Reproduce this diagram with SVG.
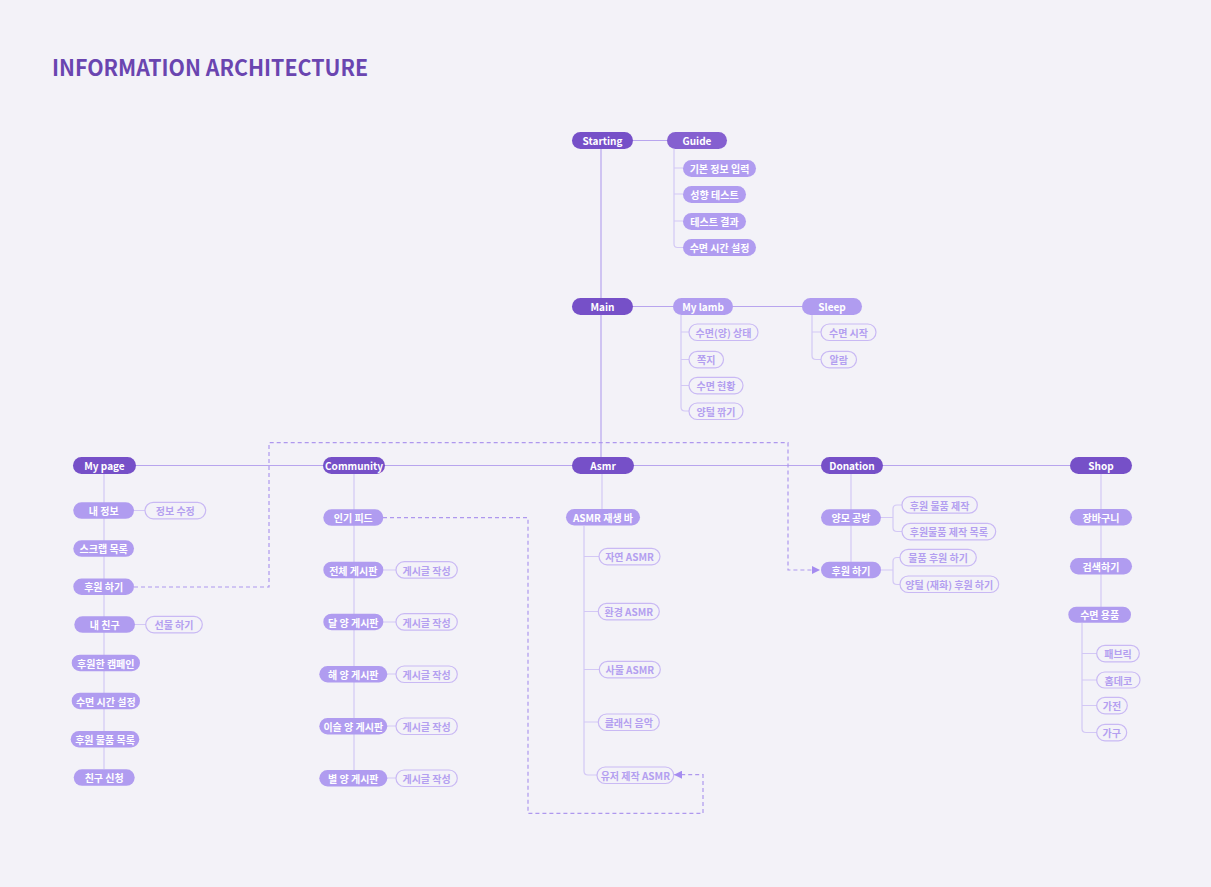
<svg xmlns="http://www.w3.org/2000/svg" width="1211" height="887" viewBox="0 0 1211 887">
<style>
text{font-family:"Noto Sans CJK KR","Noto Sans",sans-serif;font-size:10px;font-weight:700;text-anchor:middle;dominant-baseline:central}
.d rect{fill:#7650c8}
.g rect{fill:#8560d0}
.m rect{fill:#b09cf0}
.d text,.g text,.m text{fill:#ffffff}
.o rect{fill:#f3f2f8;stroke:#c9b9f4;stroke-width:1.2}
.o text{fill:#b39ff0;font-weight:600}
.ln{fill:none;stroke:#d3c8f5;stroke-width:1.2}
.mn{fill:none;stroke:#b8a5ee;stroke-width:1.2}
.ds{fill:none;stroke:#ae98ee;stroke-width:1.2;stroke-dasharray:4 3}
</style>
<defs>
<marker id="ah" viewBox="0 0 10 10" refX="10" refY="5" markerWidth="8" markerHeight="8" orient="auto" markerUnits="userSpaceOnUse">
<path d="M0,0 L10,5 L0,10 Z" fill="#a58cf0"/>
</marker>
</defs>
<rect width="1211" height="887" fill="#f3f2f8"/>
<text x="52" y="66" style="font-size:22px;font-weight:600;fill:#6a45b0;text-anchor:start" textLength="316" lengthAdjust="spacingAndGlyphs">INFORMATION ARCHITECTURE</text>

<g id="connectors">
<path class="mn" d="M601,149 V457"/>
<path class="mn" d="M633,140.5 H667"/>
<path class="ln" d="M674,149 V244 Q674,247.5 677.5,247.5 H683 M674,168 H683 M674,194 H683 M674,221 H683"/>
<path class="mn" d="M633,306.5 H673 M733,306.5 H802"/>
<path class="ln" d="M681,315 V407 Q681,411 685,411 H689 M681,332 H689 M681,359.5 H689 M681,385.5 H689"/>
<path class="ln" d="M812,315 V355.5 Q812,359.5 816,359.5 H821 M812,332 H821"/>
<path class="mn" d="M136,465.5 H1070"/>
<path class="ln" d="M104,474 V769 M134,510.5 H145 M135,624.5 H146"/>
<path class="ln" d="M354,474 V770 M383,570 H396 M383,622 H396 M387,674 H396 M387,726 H396 M387,778 H396"/>
<path class="ln" d="M602,474 V509"/>
<path class="ln" d="M584,526 V771 Q584,775 588,775 H597 M584,556.5 H599 M584,611.5 H598 M584,669.5 H599 M584,722 H598"/>
<path class="ln" d="M851,474 V562"/>
<path class="ln" d="M881,517.5 H893 M902,505 H897 Q893,505 893,509 V527.5 Q893,531.5 897,531.5 H902"/>
<path class="ln" d="M881,570 H893 M900,557.5 H897 Q893,557.5 893,561.5 V580.5 Q893,584.5 897,584.5 H900"/>
<path class="ln" d="M1101,474 V607"/>
<path class="ln" d="M1082,623 V728.5 Q1082,732.5 1086,732.5 H1097 M1082,653.5 H1097 M1082,680 H1097 M1082,705.5 H1097"/>
<path class="ds" d="M134,587 H269 V442.7 H788 V570 H820" marker-end="url(#ah)"/>
<path class="ds" d="M383,517.7 H528 V813.3 H703 V774.7 H674" marker-end="url(#ah)"/>
</g>

<g id="n-starting" class="d"><rect x="572" y="132" width="61" height="17" rx="8.5"/><text x="602.5" y="140.5">Starting</text></g>
<g id="n-guide" class="g"><rect x="667" y="132" width="60" height="17" rx="8.5"/><text x="697" y="140.5">Guide</text></g>
<g id="n-g1" class="m"><rect x="683" y="160" width="73" height="17" rx="8.5"/><text x="719.5" y="168.5">기본 정보 입력</text></g>
<g id="n-g2" class="m"><rect x="683" y="186" width="63" height="17" rx="8.5"/><text x="714.5" y="194.5">성향 테스트</text></g>
<g id="n-g3" class="m"><rect x="683" y="213" width="63" height="17" rx="8.5"/><text x="714.5" y="221.5">테스트 결과</text></g>
<g id="n-g4" class="m"><rect x="683" y="239" width="73" height="17" rx="8.5"/><text x="719.5" y="247.5">수면 시간 설정</text></g>

<g id="n-main" class="d"><rect x="572" y="298" width="61" height="17" rx="8.5"/><text x="602.5" y="306.5">Main</text></g>
<g id="n-mylamb" class="m"><rect x="673" y="298" width="60" height="17" rx="8.5"/><text x="703" y="306.5">My lamb</text></g>
<g id="n-sleep" class="m"><rect x="802" y="298" width="60" height="17" rx="8.5"/><text x="832" y="306.5">Sleep</text></g>
<g id="n-l1" class="o"><rect x="689" y="324" width="69" height="16.5" rx="8.25"/><text x="723.5" y="332.3">수면(양) 상태</text></g>
<g id="n-l2" class="o"><rect x="689" y="351.3" width="34.5" height="16.5" rx="8.25"/><text x="706.3" y="359.5">쪽지</text></g>
<g id="n-l3" class="o"><rect x="689" y="377.3" width="54" height="16.5" rx="8.25"/><text x="716" y="385.5">수면 현황</text></g>
<g id="n-l4" class="o"><rect x="689" y="403" width="54" height="16.5" rx="8.25"/><text x="716" y="411.2">양털 깎기</text></g>
<g id="n-s1" class="o"><rect x="821" y="324" width="55" height="16.5" rx="8.25"/><text x="848.5" y="332.3">수면 시작</text></g>
<g id="n-s2" class="o"><rect x="821" y="351.3" width="35.5" height="16.5" rx="8.25"/><text x="838.7" y="359.5">알람</text></g>

<g id="n-mypage" class="d"><rect x="73" y="457" width="63" height="17" rx="8.5"/><text x="104.5" y="465.5">My page</text></g>
<g id="n-p1" class="m"><rect x="73.3" y="502.3" width="60.7" height="16.5" rx="8.25"/><text x="103.7" y="510.5">내 정보</text></g>
<g id="n-p1a" class="o"><rect x="145" y="502.3" width="60.7" height="16.5" rx="8.25"/><text x="175.3" y="510.5">정보 수정</text></g>
<g id="n-p2" class="m"><rect x="73.3" y="540.3" width="60.7" height="16.5" rx="8.25"/><text x="103.7" y="548.5">스크랩 목록</text></g>
<g id="n-p3" class="m"><rect x="73.3" y="578.5" width="60.7" height="16.5" rx="8.25"/><text x="103.7" y="586.8">후원 하기</text></g>
<g id="n-p4" class="m"><rect x="74.3" y="616.3" width="60.7" height="16.5" rx="8.25"/><text x="104.7" y="624.5">내 친구</text></g>
<g id="n-p4a" class="o"><rect x="145.7" y="616.3" width="56.6" height="16.5" rx="8.25"/><text x="174" y="624.5">선물 하기</text></g>
<g id="n-p5" class="m"><rect x="71.7" y="654.7" width="68.3" height="16.5" rx="8.25"/><text x="105.8" y="663">후원한 캠페인</text></g>
<g id="n-p6" class="m"><rect x="71.7" y="692.7" width="68.3" height="16.5" rx="8.25"/><text x="105.8" y="701">수면 시간 설정</text></g>
<g id="n-p7" class="m"><rect x="70.7" y="731" width="68.6" height="16.5" rx="8.25"/><text x="105" y="739.2">후원 물품 목록</text></g>
<g id="n-p8" class="m"><rect x="73.7" y="769.3" width="61" height="16.5" rx="8.25"/><text x="104.2" y="777.6">친구 신청</text></g>

<g id="n-community" class="d"><rect x="323" y="457" width="62" height="17" rx="8.5"/><text x="354" y="465.5">Community</text></g>
<g id="n-c1" class="m"><rect x="323.3" y="509.3" width="60" height="16.5" rx="8.25"/><text x="353.3" y="517.6">인기 피드</text></g>
<g id="n-c2" class="m"><rect x="323.3" y="561.7" width="60" height="16.5" rx="8.25"/><text x="353.3" y="570">전체 게시판</text></g>
<g id="n-c2a" class="o"><rect x="396" y="561.7" width="61.3" height="16.5" rx="8.25"/><text x="426.6" y="570">게시글 작성</text></g>
<g id="n-c3" class="m"><rect x="323.3" y="613.7" width="60" height="16.5" rx="8.25"/><text x="353.3" y="622">달 양 게시판</text></g>
<g id="n-c3a" class="o"><rect x="396" y="613.7" width="61.3" height="16.5" rx="8.25"/><text x="426.6" y="622">게시글 작성</text></g>
<g id="n-c4" class="m"><rect x="319.3" y="666" width="68" height="16.5" rx="8.25"/><text x="353.3" y="674.2">해 양 게시판</text></g>
<g id="n-c4a" class="o"><rect x="396" y="666" width="61.3" height="16.5" rx="8.25"/><text x="426.6" y="674.2">게시글 작성</text></g>
<g id="n-c5" class="m"><rect x="319.3" y="718" width="68" height="16.5" rx="8.25"/><text x="353.3" y="726.2">이슬 양 게시판</text></g>
<g id="n-c5a" class="o"><rect x="396" y="718" width="61.3" height="16.5" rx="8.25"/><text x="426.6" y="726.2">게시글 작성</text></g>
<g id="n-c6" class="m"><rect x="319.3" y="770" width="68" height="16.5" rx="8.25"/><text x="353.3" y="778.2">별 양 게시판</text></g>
<g id="n-c6a" class="o"><rect x="396" y="770" width="61.3" height="16.5" rx="8.25"/><text x="426.6" y="778.2">게시글 작성</text></g>

<g id="n-asmr" class="d"><rect x="572" y="457" width="62" height="17" rx="8.5"/><text x="603" y="465.5">Asmr</text></g>
<g id="n-a0" class="m"><rect x="566" y="509" width="74" height="16.5" rx="8.25"/><text x="603" y="517.3">ASMR 재생 바</text></g>
<g id="n-a1" class="o"><rect x="599" y="548.3" width="61" height="16.5" rx="8.25"/><text x="629.5" y="556.5">자연 ASMR</text></g>
<g id="n-a2" class="o"><rect x="598.3" y="603.3" width="61" height="16.5" rx="8.25"/><text x="628.8" y="611.5">환경 ASMR</text></g>
<g id="n-a3" class="o"><rect x="599.3" y="661.3" width="61" height="16.5" rx="8.25"/><text x="629.8" y="669.5">사물 ASMR</text></g>
<g id="n-a4" class="o"><rect x="598.3" y="714" width="61" height="16.5" rx="8.25"/><text x="628.8" y="722.2">클래식 음악</text></g>
<g id="n-a5" class="o"><rect x="597" y="767" width="76.7" height="16.5" rx="8.25"/><text x="635.3" y="775.2">유저 제작 ASMR</text></g>

<g id="n-donation" class="d"><rect x="821" y="457" width="62" height="17" rx="8.5"/><text x="852" y="465.5">Donation</text></g>
<g id="n-d1" class="m"><rect x="821" y="509.3" width="60" height="16.5" rx="8.25"/><text x="851" y="517.6">양모 공방</text></g>
<g id="n-d1a" class="o"><rect x="902" y="496.7" width="75.3" height="16.5" rx="8.25"/><text x="939.6" y="505">후원 물품 제작</text></g>
<g id="n-d1b" class="o"><rect x="902" y="523.3" width="93.7" height="16.5" rx="8.25"/><text x="948.8" y="531.6">후원물품 제작 목록</text></g>
<g id="n-d2" class="m"><rect x="821" y="561.7" width="60" height="16.5" rx="8.25"/><text x="851" y="570">후원 하기</text></g>
<g id="n-d2a" class="o"><rect x="900" y="549.3" width="76.3" height="16.5" rx="8.25"/><text x="938.1" y="557.6">물품 후원 하기</text></g>
<g id="n-d2b" class="o"><rect x="900" y="576" width="98.7" height="16.5" rx="8.25"/><text x="949.3" y="584.3">양털 (재화) 후원 하기</text></g>

<g id="n-shop" class="d"><rect x="1070" y="457" width="62" height="17" rx="8.5"/><text x="1101" y="465.5">Shop</text></g>
<g id="n-h1" class="m"><rect x="1070" y="509" width="62" height="16.5" rx="8.25"/><text x="1101" y="517.3">장바구니</text></g>
<g id="n-h2" class="m"><rect x="1070" y="558" width="62" height="16.5" rx="8.25"/><text x="1101" y="566.3">검색하기</text></g>
<g id="n-h3" class="m"><rect x="1068.3" y="606.7" width="62.7" height="16" rx="8"/><text x="1099.7" y="614.8">수면 용품</text></g>
<g id="n-h3a" class="o"><rect x="1096.7" y="645.3" width="42.6" height="16.5" rx="8.25"/><text x="1118" y="653.5">패브릭</text></g>
<g id="n-h3b" class="o"><rect x="1096.7" y="672" width="43.3" height="16" rx="8"/><text x="1118.3" y="680">홈데코</text></g>
<g id="n-h3c" class="o"><rect x="1096.7" y="697.3" width="30.6" height="16.5" rx="8.25"/><text x="1112" y="705.5">가전</text></g>
<g id="n-h3d" class="o"><rect x="1096.7" y="724.3" width="30" height="16.5" rx="8.25"/><text x="1111.7" y="732.5">가구</text></g>
</svg>
